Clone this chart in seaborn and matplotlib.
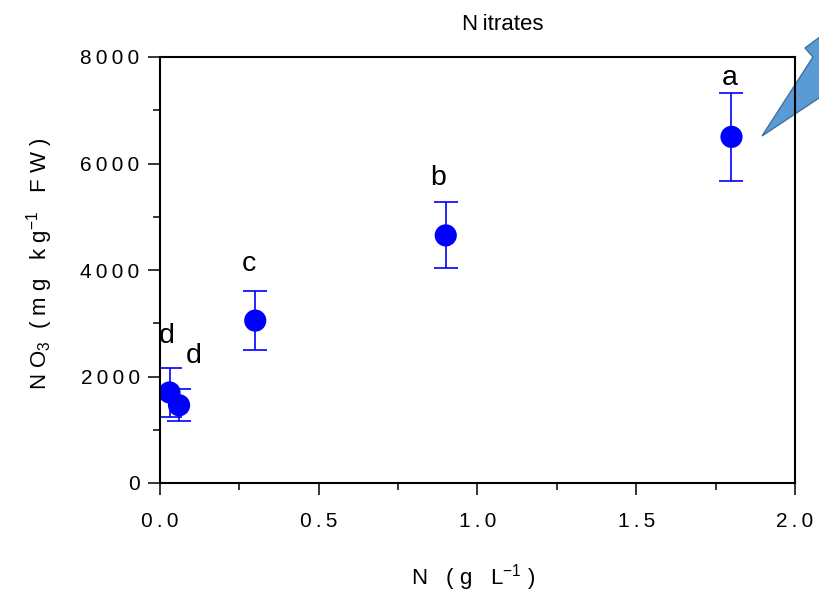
import matplotlib
matplotlib.use("Agg")
import matplotlib.pyplot as plt
from matplotlib.ticker import MultipleLocator, FixedLocator, FixedFormatter
from matplotlib.patches import Polygon
import seaborn as sns
import pandas as pd

# ---- data ----
n_levels = [0.03, 0.06, 0.3, 0.9, 1.8]
nitrate = [1700, 1460, 3050, 4650, 6500]
nitrate_err = [460, 300, 560, 620, 830]
groups = ["d", "d", "c", "b", "a"]
xtick_values = [0.0, 0.5, 1.0, 1.5, 2.0]
xtick_labels = ["0.0", "0.5", "1.0", "1.5", "2.0"]
ytick_values = [0, 2000, 4000, 6000, 8000]
ytick_labels = ["0", "2000", "4000", "6000", "8000"]

T = "\u2009"  # thin space used as letter tracking


def track(s):
    return T.join(list(s))


sns.set_theme(style="ticks")
plt.rcParams["font.family"] = ["Liberation Sans", "DejaVu Sans"]
plt.rcParams["mathtext.default"] = "regular"

df = pd.DataFrame({"N": n_levels, "NO3": nitrate, "err": nitrate_err, "grp": groups})

W, H = 820, 598
fig = plt.figure(figsize=(W / 100, H / 100), dpi=100)
ax = fig.add_axes([160 / W, 1 - 483 / H, 635 / W, 426 / H])
ax.set_facecolor("none")

blue = "#0000FF"
ax.errorbar(df["N"], df["NO3"], yerr=df["err"], fmt="none", ecolor=blue,
            elinewidth=1.2, capsize=8.5, capthick=1.2, zorder=2)
sns.scatterplot(data=df, x="N", y="NO3", ax=ax, color=blue, s=255,
                edgecolor="none", linewidth=0, zorder=3, legend=False)

# significance letters (offsets in pixels from top of error bar)
offsets_px = [(-3, 25), (15, 26), (-6, 20), (-8, 17), (-2, 8)]
for (xv, yv, ev, g), (dx, dy) in zip(zip(df["N"], df["NO3"], df["err"], df["grp"]), offsets_px):
    ax.annotate(g, xy=(xv, yv + ev), xytext=(dx * 0.72, dy * 0.72),
                textcoords="offset points", ha="center", va="baseline",
                fontsize=20.5, color="black")

ax.set_xlim(0, 2)
ax.set_ylim(0, 8000)
ax.xaxis.set_major_locator(FixedLocator(xtick_values))
ax.xaxis.set_major_formatter(FixedFormatter([track(s) for s in xtick_labels]))
ax.yaxis.set_major_locator(FixedLocator(ytick_values))
ax.yaxis.set_major_formatter(FixedFormatter([track(s) for s in ytick_labels]))
ax.xaxis.set_minor_locator(MultipleLocator(0.25))
ax.yaxis.set_minor_locator(MultipleLocator(1000))

ax.tick_params(which="major", length=8.6, width=1.1, direction="out",
               labelsize=15, colors="black", top=False, right=False)
ax.tick_params(axis="x", which="major", pad=12)
ax.tick_params(axis="y", which="major", pad=6)
ax.tick_params(which="minor", length=5, width=1.1, direction="out",
               top=False, right=False, colors="black")

for sp in ax.spines.values():
    sp.set_visible(True)
    sp.set_linewidth(1.5)
    sp.set_color("black")
    sp.set_zorder(5)
ax.grid(False)

xlabel = "N   ( g   L$^{-1}$ )"
ylabel = "N O$_{3}$  ( m g   k g$^{-1}$   F W )"
ax.set_xlabel(xlabel, fontsize=16, color="black")
ax.set_ylabel(ylabel, fontsize=16, color="black")
ax.xaxis.set_label_coords((473 - 160) / 635, -(578 - 483) / 426)
ax.xaxis.label.set_va("center")
ax.yaxis.set_label_coords((40 - 160) / 635, (483 - 264) / 426)
ax.yaxis.label.set_va("center")

fig.text(503 / W, 1 - 25 / H, "N" + T + "itrates", ha="center", va="center",
         fontsize=16, color="black")

# callout wedge shape (partially outside the figure), drawn beneath the axes frame
pts_px = [(840, 22), (805, 48), (813, 57), (762, 136), (840, 84)]
poly = Polygon([(px / W, 1 - py / H) for px, py in pts_px], closed=True,
               transform=fig.transFigure, facecolor="#5B9BD5",
               edgecolor="#41719C", linewidth=1.0, zorder=-1)
fig.patches.append(poly)

fig.savefig("out.png", dpi=100, facecolor="white")
